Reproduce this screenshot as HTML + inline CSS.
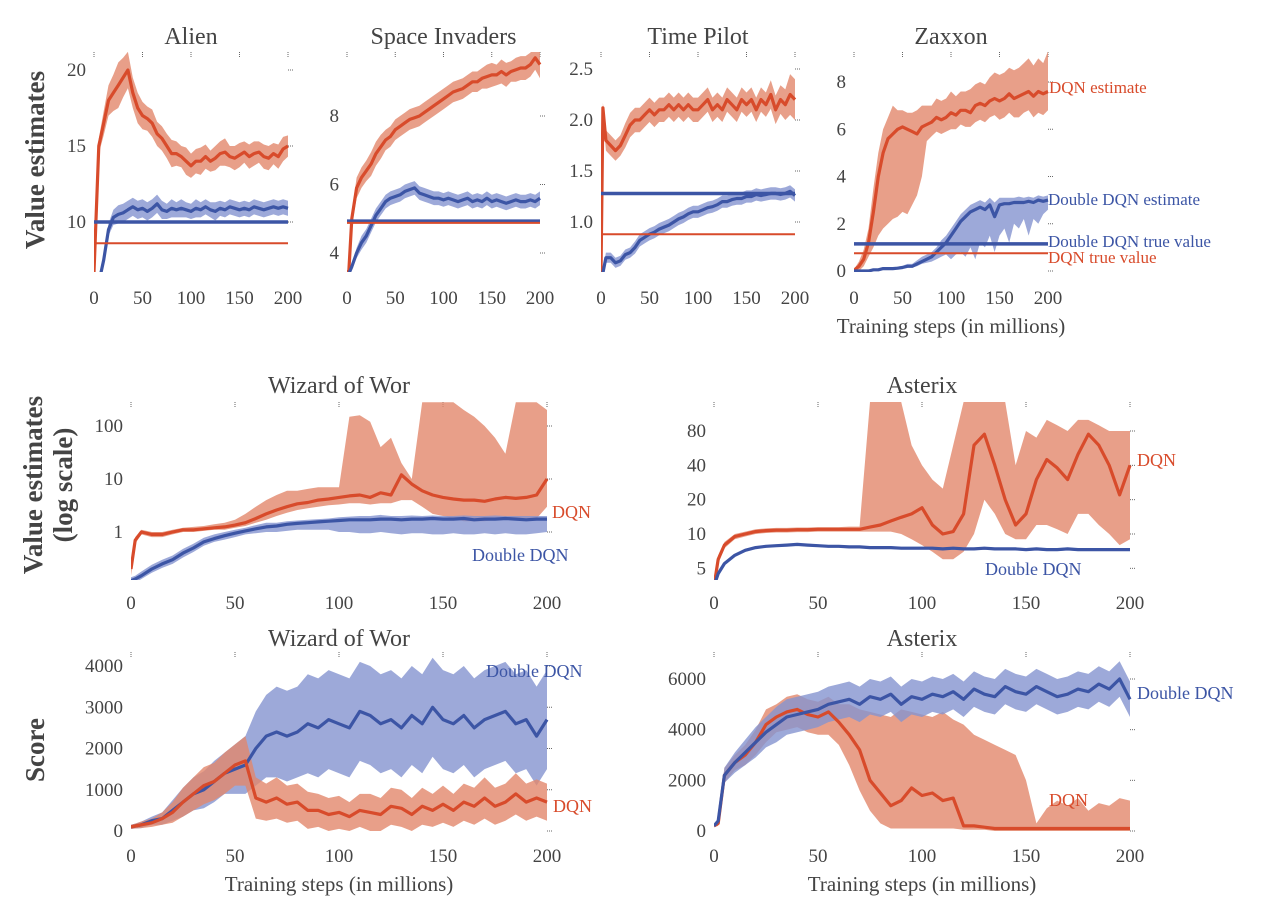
<!DOCTYPE html>
<html><head><meta charset="utf-8">
<style>
html,body{margin:0;padding:0;background:#fff;}
svg{display:block;font-family:"Liberation Serif",serif;}
</style></head>
<body>
<svg id="fig" width="1265" height="909" viewBox="0 0 1265 909" xmlns="http://www.w3.org/2000/svg">
<defs id="defs"></defs>
<g id="root"></g>
</svg>
<script>
const steps=[0,2,5,10,15,20,25,30,35,40,45,50,55,60,65,70,75,80,85,90,95,100,105,110,115,120,125,130,135,140,145,150,155,160,165,170,175,180,185,190,195,200];
const xTicks=[0,50,100,150,200];

const alienDqn=[6.7,10,15,16.5,18,18.5,19,19.5,20,18.5,17.5,17,16.8,16.5,15.8,15.5,15,14.5,14.5,14.3,14,13.7,14,14,14.3,14,14.2,14.5,14.6,14.3,14.2,14.4,14.6,14.3,14.5,14.6,14.3,14.2,14.5,14.3,14.8,15];
const alienDqnSpread=[0,0.3,0.5,0.8,1,1.2,1.5,1.3,1.2,1,1,0.9,0.8,0.9,0.8,0.8,0.8,0.9,0.8,0.7,0.9,0.8,0.8,0.9,0.8,0.7,0.8,0.8,0.9,0.7,0.8,0.8,0.7,0.8,0.8,0.7,0.8,0.8,0.7,0.8,0.8,0.7];
const alienDdqn=[5,5,6,7.5,9.5,10.3,10.5,10.6,10.8,11,10.8,10.9,10.7,10.9,11.2,10.8,10.7,10.9,10.8,10.9,10.8,10.7,10.9,10.8,11,10.8,10.7,10.9,10.8,11,10.9,10.8,10.9,10.8,11,10.9,10.8,10.9,11,10.9,11,10.9];
const alienDdqnSpread=[0,0,0.2,0.3,0.4,0.5,0.6,0.6,0.6,0.6,0.6,0.6,0.6,0.6,0.6,0.6,0.5,0.6,0.5,0.6,0.5,0.5,0.6,0.5,0.5,0.5,0.6,0.5,0.5,0.5,0.5,0.5,0.5,0.5,0.5,0.5,0.5,0.5,0.5,0.5,0.5,0.5];
const alienTrue=[10,8.6];
const alienYTicks=[10,15,20];

const siDqn=[3.4,3.5,5,5.9,6.2,6.4,6.6,6.9,7.1,7.3,7.4,7.6,7.7,7.8,7.9,7.95,8,8.1,8.2,8.3,8.4,8.5,8.6,8.7,8.75,8.8,8.9,9,9,9.1,9.15,9.2,9.2,9.3,9.2,9.3,9.35,9.4,9.4,9.5,9.7,9.5];
const siDqnSpread=[0,0.1,0.2,0.3,0.3,0.3,0.35,0.35,0.35,0.3,0.3,0.3,0.3,0.3,0.3,0.3,0.3,0.3,0.3,0.3,0.3,0.3,0.3,0.3,0.3,0.3,0.3,0.3,0.3,0.3,0.35,0.35,0.3,0.35,0.35,0.3,0.35,0.35,0.35,0.35,0.35,0.4];
const siDdqn=[3.4,3.4,3.6,4,4.3,4.5,4.8,5.1,5.3,5.5,5.6,5.65,5.7,5.8,5.85,5.9,5.75,5.7,5.65,5.6,5.6,5.55,5.6,5.55,5.5,5.55,5.6,5.5,5.55,5.5,5.6,5.5,5.55,5.5,5.45,5.5,5.55,5.5,5.5,5.55,5.5,5.6];
const siDdqnSpread=[0,0,0.1,0.15,0.2,0.2,0.2,0.2,0.2,0.2,0.2,0.2,0.2,0.2,0.2,0.2,0.2,0.2,0.2,0.2,0.2,0.2,0.2,0.2,0.2,0.2,0.2,0.2,0.2,0.2,0.2,0.2,0.2,0.2,0.2,0.2,0.2,0.2,0.2,0.2,0.2,0.2];
const siTrue=[4.93,4.88];
const siYTicks=[4,6,8];

const tpDqn=[0.5,2.12,1.8,1.75,1.7,1.75,1.85,1.95,2.0,2.0,2.05,2.1,2.05,2.1,2.1,2.15,2.1,2.15,2.1,2.15,2.1,2.1,2.15,2.2,2.1,2.15,2.1,2.2,2.15,2.1,2.2,2.15,2.2,2.1,2.2,2.15,2.25,2.1,2.2,2.15,2.25,2.2];
const tpDqnSpread=[0,0.05,0.1,0.1,0.1,0.1,0.12,0.12,0.12,0.12,0.12,0.12,0.12,0.12,0.12,0.12,0.12,0.12,0.12,0.12,0.12,0.12,0.12,0.12,0.12,0.12,0.12,0.12,0.12,0.12,0.12,0.12,0.12,0.12,0.12,0.12,0.14,0.14,0.14,0.15,0.2,0.2];
const tpDdqn=[0.45,0.5,0.65,0.65,0.6,0.62,0.68,0.7,0.75,0.82,0.85,0.88,0.9,0.93,0.95,0.97,1.0,1.03,1.05,1.08,1.1,1.1,1.12,1.14,1.15,1.17,1.2,1.2,1.22,1.23,1.23,1.25,1.25,1.27,1.26,1.27,1.28,1.28,1.27,1.28,1.3,1.26];
const tpDdqnSpread=[0,0.03,0.05,0.05,0.05,0.05,0.05,0.05,0.06,0.06,0.06,0.06,0.06,0.06,0.06,0.06,0.06,0.06,0.06,0.06,0.06,0.06,0.06,0.06,0.06,0.06,0.06,0.06,0.06,0.06,0.06,0.06,0.06,0.06,0.06,0.06,0.06,0.06,0.06,0.06,0.06,0.06];
const tpTrue=[1.28,0.88];
const tpYTicks=[1.0,1.5,2.0,2.5];

const zaxDqn=[0,0.1,0.2,0.5,1.2,2.5,4,5,5.6,5.8,6,6.1,6,5.9,5.8,6.1,6.2,6.3,6.5,6.4,6.5,6.7,6.6,6.8,6.8,6.7,7,7.1,7,7.2,7.3,7.2,7.3,7.5,7.3,7.4,7.5,7.6,7.4,7.6,7.5,7.6];
const zaxDqnHi=[0,0.2,0.4,0.9,1.8,3.5,5,6,6.5,7,6.8,6.8,6.7,6.7,6.8,7,7,7,7.3,7.2,7.3,7.6,7.4,7.6,7.6,7.7,7.9,8,7.9,8.2,8.4,8.3,8.4,8.6,8.5,8.6,8.8,9,8.7,9,8.8,9.3];
const zaxDqnLo=[0,0,0,0.2,0.6,1,1.5,1.8,2,2.2,2.3,2.5,2.4,2.8,3.2,4,5.5,5.7,5.9,5.8,5.9,6,6,6.2,6.1,6.1,6.3,6.4,6.3,6.5,6.6,6.4,6.5,6.7,6.5,6.5,6.7,6.8,6.5,6.7,6.6,6.8];
const zaxDdqn=[0,0,0,0,0,0.05,0.05,0.1,0.1,0.1,0.12,0.15,0.2,0.2,0.3,0.4,0.5,0.6,0.8,1.0,1.2,1.5,1.8,2.1,2.3,2.5,2.6,2.7,2.6,2.8,2.3,2.8,2.85,2.85,2.9,2.9,2.9,2.95,2.9,3.0,2.95,3.0];
const zaxDdqnLo=[0,0,0,0,0,0,0,0.05,0.05,0.05,0.08,0.1,0.15,0.15,0.2,0.3,0.35,0.4,0.5,0.6,0.7,0.5,0.7,0.8,0.6,1.0,0.5,1.2,1.0,1.5,0.8,1.5,1.8,1.2,2.0,1.8,2.2,1.5,2.2,2.0,2.4,2.6];
const zaxDdqnHi=[0.05,0.05,0.05,0.05,0.05,0.1,0.1,0.15,0.15,0.15,0.18,0.22,0.3,0.3,0.45,0.6,0.7,0.8,1.0,1.3,1.5,1.8,2.1,2.4,2.6,2.8,2.9,3.0,2.9,3.1,2.9,3.1,3.1,3.1,3.1,3.15,3.1,3.15,3.1,3.2,3.15,3.2];
const zaxTrue=[1.15,0.75];
const zaxYTicks=[0,2,4,6,8];

const wizVDqn=[0.2,0.7,1.0,0.9,0.9,1.0,1.1,1.1,1.15,1.2,1.25,1.35,1.5,1.8,2.2,2.6,3,3.4,3.6,4,4.2,4.5,4.8,5,4.5,5.5,5,12,8,6,5,4.5,4.2,4,4,3.8,4.2,4.5,4.3,4.5,5,10];
const wizVDqnHi=[0.25,0.8,1.1,1.0,1.0,1.1,1.2,1.25,1.3,1.4,1.5,1.7,2.2,3,4,5,6,6,6.5,7,7,7,150,160,120,40,60,20,10,280,280,280,280,200,150,100,60,30,280,280,280,200];
const wizVDqnLo=[0.15,0.6,0.9,0.8,0.8,0.9,1.0,1.0,1.05,1.1,1.1,1.2,1.3,1.5,1.7,2,2.3,2.6,2.8,3,3.2,3.3,3.5,3.5,3.3,3.5,3.5,4,4,3,2.2,2,1.8,1.6,1.6,1.6,1.7,1.7,1.7,1.8,1.8,3];
const wizVDdqn=[0.12,0.13,0.15,0.2,0.25,0.3,0.4,0.5,0.65,0.75,0.85,0.95,1.05,1.15,1.25,1.3,1.4,1.45,1.5,1.55,1.6,1.65,1.7,1.7,1.7,1.75,1.75,1.7,1.75,1.75,1.8,1.75,1.75,1.8,1.7,1.75,1.75,1.8,1.75,1.7,1.75,1.75];
const wizVDdqnLo=[0.1,0.11,0.13,0.17,0.21,0.25,0.33,0.42,0.55,0.65,0.72,0.8,0.9,0.95,1.0,1.0,1.05,1.1,1.1,1.1,1.1,1.0,1.0,0.95,0.95,1.0,0.95,0.9,0.95,0.95,0.9,0.9,0.95,0.9,0.9,0.95,0.9,0.95,0.9,0.9,0.95,1.0];
const wizVDdqnHi=[0.14,0.15,0.18,0.24,0.3,0.36,0.48,0.6,0.78,0.9,1.0,1.1,1.2,1.35,1.5,1.5,1.6,1.65,1.7,1.75,1.8,1.9,1.95,2,2,2.1,2,2,2.05,2,2.05,2,2,2.05,2,2,2.05,2,2,2,2,2];
const wizVYTicks=[1,10,100];

const astVDqn=[3.5,6,8,9.5,10,10.5,10.7,10.8,10.8,10.9,10.9,11,11,11,11,11,11.5,12,13,14,15,17,12,10,10.5,15,60,75,40,20,12,15,30,45,38,30,50,75,60,40,22,40];
const astVDqnHi=[3.8,6.5,8.5,10,10.5,11,11.2,11.3,11.3,11.4,11.4,11.5,11.5,11.5,11.6,11.6,144,144,144,144,60,40,30,25,60,144,144,144,144,144,40,80,70,100,90,80,100,100,90,80,80,80];
const astVDqnLo=[3.2,5.5,7.5,9,9.5,10,10.2,10.3,10.3,10.4,10.4,10.5,10.5,10.5,10.5,10.5,10.5,10.5,10.5,10,9,8,7,6,6,7,10,20,15,10,9,9,12,12,11,10,15,15,12,10,8,9];
const astVDdqn=[3.5,4.5,5.5,6.5,7.2,7.6,7.8,7.9,8,8.1,8,7.9,7.8,7.8,7.7,7.7,7.6,7.6,7.6,7.5,7.5,7.5,7.5,7.4,7.5,7.4,7.4,7.5,7.4,7.4,7.4,7.3,7.4,7.3,7.3,7.4,7.3,7.3,7.3,7.3,7.3,7.3];
const astVDdqnSpread=[0,0.1,0.2,0.2,0.2,0.2,0.2,0.2,0.2,0.2,0.2,0.2,0.2,0.2,0.2,0.2,0.2,0.2,0.2,0.2,0.2,0.2,0.2,0.2,0.2,0.2,0.2,0.2,0.2,0.2,0.2,0.2,0.2,0.2,0.2,0.2,0.2,0.2,0.2,0.2,0.2,0.2];
const astVYTicks=[5,10,20,40,80];

const wizSDqn=[100,120,150,200,300,450,700,900,1100,1200,1400,1600,1700,800,700,800,650,700,500,500,400,450,350,500,450,400,600,550,400,600,500,650,500,700,600,800,600,700,900,700,800,700];
const wizSDqnSpread=[50,60,80,100,150,250,350,400,450,450,500,500,600,500,450,500,450,450,450,400,400,400,350,400,450,400,450,450,400,450,400,450,400,450,450,500,450,450,500,450,450,450];
const wizSDdqn=[100,120,150,250,300,500,700,900,1000,1200,1400,1500,1600,2000,2300,2400,2300,2400,2600,2500,2700,2600,2500,2900,2800,2600,2700,2500,2800,2600,3000,2700,2600,2800,2500,2700,2800,2900,2600,2700,2300,2700];
const wizSDdqnSpread=[50,60,80,100,150,250,350,400,450,500,500,600,700,900,1000,1100,1100,1100,1200,1200,1200,1200,1200,1200,1200,1200,1200,1200,1200,1200,1200,1200,1200,1200,1200,1200,1200,1200,1200,1200,1200,1200];
const wizSYTicks=[0,1000,2000,3000,4000];

const astSDqn=[200,300,2200,2700,3000,3500,4200,4500,4700,4800,4600,4500,4700,4300,3800,3200,2000,1500,1000,1200,1700,1400,1500,1200,1300,200,200,150,100,100,100,100,100,100,100,100,100,100,100,100,100,100];
const astSDqnHi=[250,400,2500,3000,3400,4000,4800,5000,5300,5400,5200,5100,5300,5000,5000,4800,4700,4600,4500,4800,4700,4600,4500,4700,4400,4200,3800,3600,3400,3200,3000,2000,300,900,1200,1000,1300,800,1100,1000,1300,1200];
const astSDqnLo=[150,200,1900,2400,2600,3000,3500,3900,4000,4100,3900,3800,3800,3400,2600,1600,800,300,100,100,100,100,100,100,100,50,50,50,0,0,0,0,0,0,0,0,0,0,0,0,0,0];
const astSDdqn=[200,400,2200,2700,3100,3500,3900,4200,4500,4600,4700,4800,5000,5100,5200,5000,5300,5200,5400,5000,5300,5200,5400,5300,5500,5200,5600,5400,5300,5700,5500,5400,5700,5500,5300,5400,5600,5500,5800,5600,6000,5200];
const astSDdqnSpread=[50,100,300,400,500,600,600,700,700,700,700,700,700,700,700,700,700,700,700,700,700,700,700,700,700,700,700,700,700,700,700,700,700,700,700,700,700,700,700,700,700,700];
const astSYTicks=[0,2000,4000,6000];

const NS="http://www.w3.org/2000/svg";
const RED="#d84b2b",BLUE="#3c55a5",REDB="#e2876c",BLUEB="#8593d0";
const root=document.getElementById('root');
const defs=document.getElementById('defs');
function mk(tag,attrs,parent){const e=document.createElementNS(NS,tag);for(const k in attrs)e.setAttribute(k,attrs[k]);(parent||root).appendChild(e);return e;}
function txt(s,x,y,size,anchor,fill,parent){const t=mk('text',{x:x,y:y,'font-size':size,'text-anchor':anchor||'middle',fill:fill||'#444'},parent);t.textContent=s;return t;}

let clipN=0;
function panel(p){
  const g=mk('g',{});
  
  
  const xs=v=>p.x0+(v-0)/(200)*(p.x1-p.x0);
  const f=p.log?(v=>Math.log10(Math.max(v,1e-6))):(v=>v);
  const ys=v=>p.ya[1]+(f(v)-f(p.ya[0]))/(f(p.yb[0])-f(p.ya[0]))*(p.yb[1]-p.ya[1]);
  const id='c'+(clipN++);
  const cp=mk('clipPath',{id:id},defs);
  mk('rect',{x:p.x0,y:p.top,width:p.x1-p.x0+2,height:p.bot-p.top},cp);
  xTicks.forEach(v=>{for(let k=0;k<3;k++){mk('rect',{x:xs(v)-0.5,y:p.top+k*2,width:1,height:1,fill:'#666'},g);}});
  p.yTicks.forEach(v=>{for(let k=0;k<3;k++){mk('rect',{x:p.x1+k*2,y:ys(v)-0.5,width:1,height:1,fill:'#666'},g);}});
  const plot=mk('g',{'clip-path':'url(#'+id+')'},g);
  p.series.forEach(s=>{
    const lo=s.lo?s.lo:s.mean.map((m,i)=>m-(s.spread[i]||0));
    const hi=s.hi?s.hi:s.mean.map((m,i)=>m+(s.spread[i]||0));
    let d='';
    steps.forEach((st,i)=>{d+=(i?'L':'M')+xs(st).toFixed(1)+','+ys(hi[i]).toFixed(1);});
    for(let i=steps.length-1;i>=0;i--)d+='L'+xs(steps[i]).toFixed(1)+','+ys(lo[i]).toFixed(1);
    const band=mk('path',{d:d+'Z',fill:s.bandColor,'fill-opacity':0.8},plot);
    
    
  });
  p.series.forEach(s=>{
    let d='';
    steps.forEach((st,i)=>{d+=(i?'L':'M')+xs(st).toFixed(1)+','+ys(s.mean[i]).toFixed(1);});
    const ln=mk('path',{d:d,fill:'none',stroke:s.color,'stroke-width':3.2,'stroke-linejoin':'round'},plot);
    
    
  });
  if(p.trueVals){
    const tb=mk('line',{x1:p.x0,x2:p.x1,y1:ys(p.trueVals[0]),y2:ys(p.trueVals[0]),stroke:BLUE,'stroke-width':3.5},plot);
    
    
    const tr=mk('line',{x1:p.x0,x2:p.x1,y1:ys(p.trueVals[1]),y2:ys(p.trueVals[1]),stroke:RED,'stroke-width':2},plot);
    
    
  }
  xTicks.forEach(v=>{const t=txt(String(v),xs(v),p.xLabY,19,'middle','#444',g);
    
    });
  p.yTicks.forEach(v=>{const t=txt(p.fmt?p.fmt(v):String(v),p.x0-8,ys(v)+6,19,'end','#444',g);
    
    });
  const tt=txt(p.title,(p.x0+p.x1)/2,p.titleY,24,'middle','#444',g);
  
  
}

const redS=(key,mean,o)=>Object.assign({key:key,mean:mean,color:RED,bandColor:REDB},o);
const blueS=(key,mean,o)=>Object.assign({key:key,mean:mean,color:BLUE,bandColor:BLUEB},o);

panel({name:'alien-panel',title:'Alien',x0:94,x1:288,top:52,bot:272,titleY:44,xLabY:304,ya:[10,222],yb:[20,70],yTicks:alienYTicks,trueVals:alienTrue,
  series:[redS('dqn-estimate',alienDqn,{spread:alienDqnSpread}),blueS('double-dqn-estimate',alienDdqn,{spread:alienDdqnSpread})]});
panel({name:'space-invaders-panel',title:'Space Invaders',x0:347,x1:540,top:52,bot:272,titleY:44,xLabY:304,ya:[4,253],yb:[8,116],yTicks:siYTicks,trueVals:siTrue,
  series:[redS('dqn-estimate',siDqn,{spread:siDqnSpread}),blueS('double-dqn-estimate',siDdqn,{spread:siDdqnSpread})]});
panel({name:'time-pilot-panel',title:'Time Pilot',x0:601,x1:795,top:52,bot:272,titleY:44,xLabY:304,ya:[1,222],yb:[2.5,69],yTicks:tpYTicks,trueVals:tpTrue,fmt:v=>v.toFixed(1),
  series:[redS('dqn-estimate',tpDqn,{spread:tpDqnSpread}),blueS('double-dqn-estimate',tpDdqn,{spread:tpDdqnSpread})]});
panel({name:'zaxxon-panel',title:'Zaxxon',x0:854,x1:1048,top:52,bot:272,titleY:44,xLabY:304,ya:[0,271],yb:[8,82],yTicks:zaxYTicks,trueVals:zaxTrue,
  series:[redS('dqn-estimate',zaxDqn,{lo:zaxDqnLo,hi:zaxDqnHi}),blueS('double-dqn-estimate',zaxDdqn,{lo:zaxDdqnLo,hi:zaxDdqnHi})]});
panel({name:'wizard-value-panel',title:'Wizard of Wor',x0:131,x1:547,top:402,bot:580,titleY:393,xLabY:609,log:true,ya:[1,532],yb:[100,426],yTicks:wizVYTicks,
  series:[redS('dqn-estimate',wizVDqn,{lo:wizVDqnLo,hi:wizVDqnHi}),blueS('double-dqn-estimate',wizVDdqn,{lo:wizVDdqnLo,hi:wizVDdqnHi})]});
panel({name:'asterix-value-panel',title:'Asterix',x0:714,x1:1130,top:402,bot:580,titleY:393,xLabY:609,log:true,ya:[10,534],yb:[80,431],yTicks:astVYTicks,
  series:[redS('dqn-estimate',astVDqn,{lo:astVDqnLo,hi:astVDqnHi}),blueS('double-dqn-estimate',astVDdqn,{spread:astVDdqnSpread})]});
panel({name:'wizard-score-panel',title:'Wizard of Wor',x0:131,x1:547,top:652,bot:832,titleY:646,xLabY:862,ya:[0,831],yb:[4000,666],yTicks:wizSYTicks,
  series:[blueS('double-dqn-score',wizSDdqn,{spread:wizSDdqnSpread}),redS('dqn-score',wizSDqn,{spread:wizSDqnSpread})]});
panel({name:'asterix-score-panel',title:'Asterix',x0:714,x1:1130,top:652,bot:832,titleY:646,xLabY:862,ya:[0,831],yb:[6000,679],yTicks:astSYTicks,
  series:[redS('dqn-score',astSDqn,{lo:astSDqnLo,hi:astSDqnHi}),blueS('double-dqn-score',astSDdqn,{spread:astSDdqnSpread})]});

function label(s,x,y,size,col,name,anchor,rot,weight){
  const t=txt(s,x,y,size,anchor||'start',col);
  
  
  if(rot)t.setAttribute('transform','rotate(-90 '+x+' '+y+')');
  if(weight)t.setAttribute('font-weight',weight);
  return t;
}
label('DQN estimate',1049,93,17,RED,'dqn-estimate-label');
label('Double DQN estimate',1048,205,17,BLUE,'double-dqn-estimate-label');
label('Double DQN true value',1048,247,17,BLUE,'double-dqn-true-value-label');
label('DQN true value',1048,263,17,RED,'dqn-true-value-label');
label('DQN',552,518,18,RED,'wizard-dqn-label');
label('Double DQN',472,561,18,BLUE,'wizard-double-dqn-label');
label('DQN',1137,466,18,RED,'asterix-dqn-label');
label('Double DQN',985,575,18,BLUE,'asterix-double-dqn-label');
label('Double DQN',486,677,18,BLUE,'wizard-score-double-dqn-label');
label('DQN',553,812,18,RED,'wizard-score-dqn-label');
label('Double DQN',1137,699,18,BLUE,'asterix-score-double-dqn-label');
label('DQN',1049,806,18,RED,'asterix-score-dqn-label');
label('Value estimates',44,160,27,'#444','y-axis-title-value','middle',true,'bold');
label('Value estimates',42,485,27,'#444','y-axis-title-log-value','middle',true,'bold');
label('(log scale)',72,485,27,'#444','y-axis-title-log-scale','middle',true,'bold');
label('Score',44,750,27,'#444','y-axis-title-score','middle',true,'bold');
label('Training steps (in millions)',951,333,21,'#444','x-axis-title-top','middle');
label('Training steps (in millions)',339,891,21,'#444','x-axis-title-wizard','middle');
label('Training steps (in millions)',922,891,21,'#444','x-axis-title-asterix','middle');
</script>
</body></html>
